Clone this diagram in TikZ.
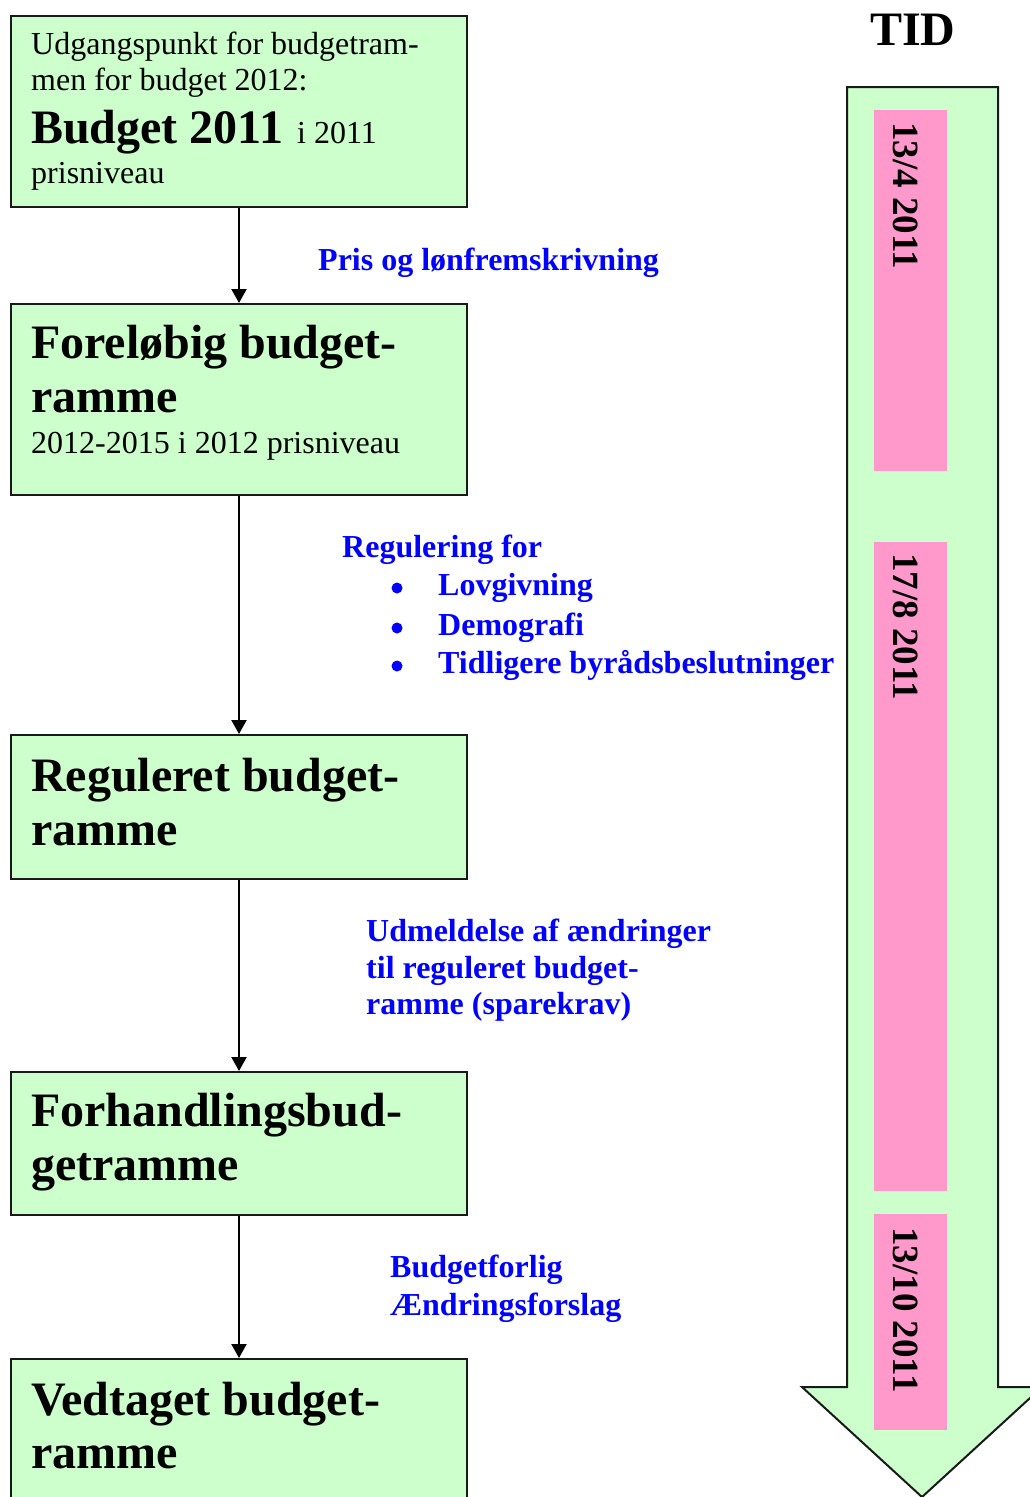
\documentclass[tikz,border=0pt]{standalone}
\usepackage{fontspec}
\setmainfont{Liberation Serif}
\usetikzlibrary{arrows.meta}
\definecolor{boxgreen}{HTML}{CCFFCC}
\definecolor{datepink}{HTML}{FF99CC}
\definecolor{noteblue}{HTML}{0000FF}
\begin{document}
\begin{tikzpicture}[x=1pt,y=-1pt,
  box/.style={draw=black!90, line width=2pt, fill=boxgreen, anchor=north west, inner sep=0pt, minimum width=456pt},
  txt/.style={anchor=base west, inner sep=0pt, font=\fontsize{32}{38}\selectfont},
  head/.style={anchor=base west, inner sep=0pt, font=\fontsize{48}{54}\bfseries},
  note/.style={anchor=base west, inner sep=0pt, text=noteblue, font=\fontsize{32}{38}\bfseries},
  bul/.style={circle, fill=noteblue, inner sep=0pt, minimum size=11pt},
  datetxt/.style={anchor=base west, inner sep=0pt, rotate=-90, font=\fontsize{37}{40}\bfseries},
  conn/.style={line width=2.2pt, -{Triangle[width=15pt,length=14pt]}},
]
\useasboundingbox (0,0) rectangle (1030,1497);
\clip (0,0) rectangle (1030,1497);

% time arrow
\draw[line width=2pt, draw=black!90, fill=boxgreen] (847,87) -- (998,87) -- (998,1387) -- (1042,1387) -- (922,1497) -- (802,1387) -- (847,1387) -- cycle;
\fill[datepink] (874,110) rectangle (947,471);
\fill[datepink] (874,542) rectangle (947,1191);
\fill[datepink] (874,1214) rectangle (947,1430);
\node[datetxt] (d1) at (893,122) {13/4 2011};
\node[datetxt] (d2) at (893,553) {17/8 2011};
\node[datetxt] (d3) at (893,1227) {13/10 2011};
\node[anchor=base west, inner sep=0pt, font=\fontsize{48}{54}\bfseries] (tid) at (870,45) {TID};

% boxes
\node[box, minimum height=191pt] (b1) at (10,15) {};
\node[box, minimum height=191pt] (b2) at (10,303) {};
\node[box, minimum height=144pt] (b3) at (10,734) {};
\node[box, minimum height=143pt] (b4) at (10,1071) {};
\node[box, minimum height=162pt] (b5) at (10,1358) {};
\fill[white] (298,299) rectangle (467,303.2);

% connectors
\draw[conn] (b1.south) -- (b2.north);
\draw[conn] (b2.south) -- (b3.north);
\draw[conn] (b3.south) -- (b4.north);
\draw[conn] (b4.south) -- (b5.north);

% box texts
\node[txt] (t1a) at (31,54) {Udgangspunkt for budgetram-};
\node[txt] (t1b) at (31,90) {men for budget 2012:};
\node[txt] (t1c) at (31,143) {{\fontsize{48}{54}\bfseries Budget 2011}\hspace{6pt} i 2011};
\node[txt] (t1d) at (31,183) {prisniveau};

\node[head] (t2a) at (31,358) {Foreløbig budget-};
\node[head] (t2b) at (31,412) {ramme};
\node[txt] (t2c) at (31,453) {2012-2015 i 2012 prisniveau};

\node[head] (t3a) at (31,791) {Reguleret budget-};
\node[head] (t3b) at (31,845) {ramme};

\node[head] (t4a) at (31,1126) {Forhandlingsbud-};
\node[head] (t4b) at (31,1180) {getramme};

\node[head] (t5a) at (31,1415) {Vedtaget budget-};
\node[head] (t5b) at (31,1468) {ramme};

% notes
\node[note] (n1) at (318,270) {Pris og lønfremskrivning};

\node[note] (n2) at (342,557) {Regulering for};
\node[bul] (n2b1) at (397,588) {};
\node[note] (n2a) at (438,595) {Lovgivning};
\node[bul] (n2b2) at (397,628) {};
\node[note] (n2b) at (438,635) {Demografi};
\node[bul] (n2b3) at (397,666) {};
\node[note] (n2c) at (438,673) {Tidligere byrådsbeslutninger};

\node[note] (n3a) at (366,941) {Udmeldelse af ændringer};
\node[note] (n3b) at (366,978) {til reguleret budget-};
\node[note] (n3c) at (366,1014) {ramme (sparekrav)};

\node[note] (n4a) at (390,1277) {Budgetforlig};
\node[note] (n4b) at (390,1315) {Ændringsforslag};
\end{tikzpicture}
\end{document}
